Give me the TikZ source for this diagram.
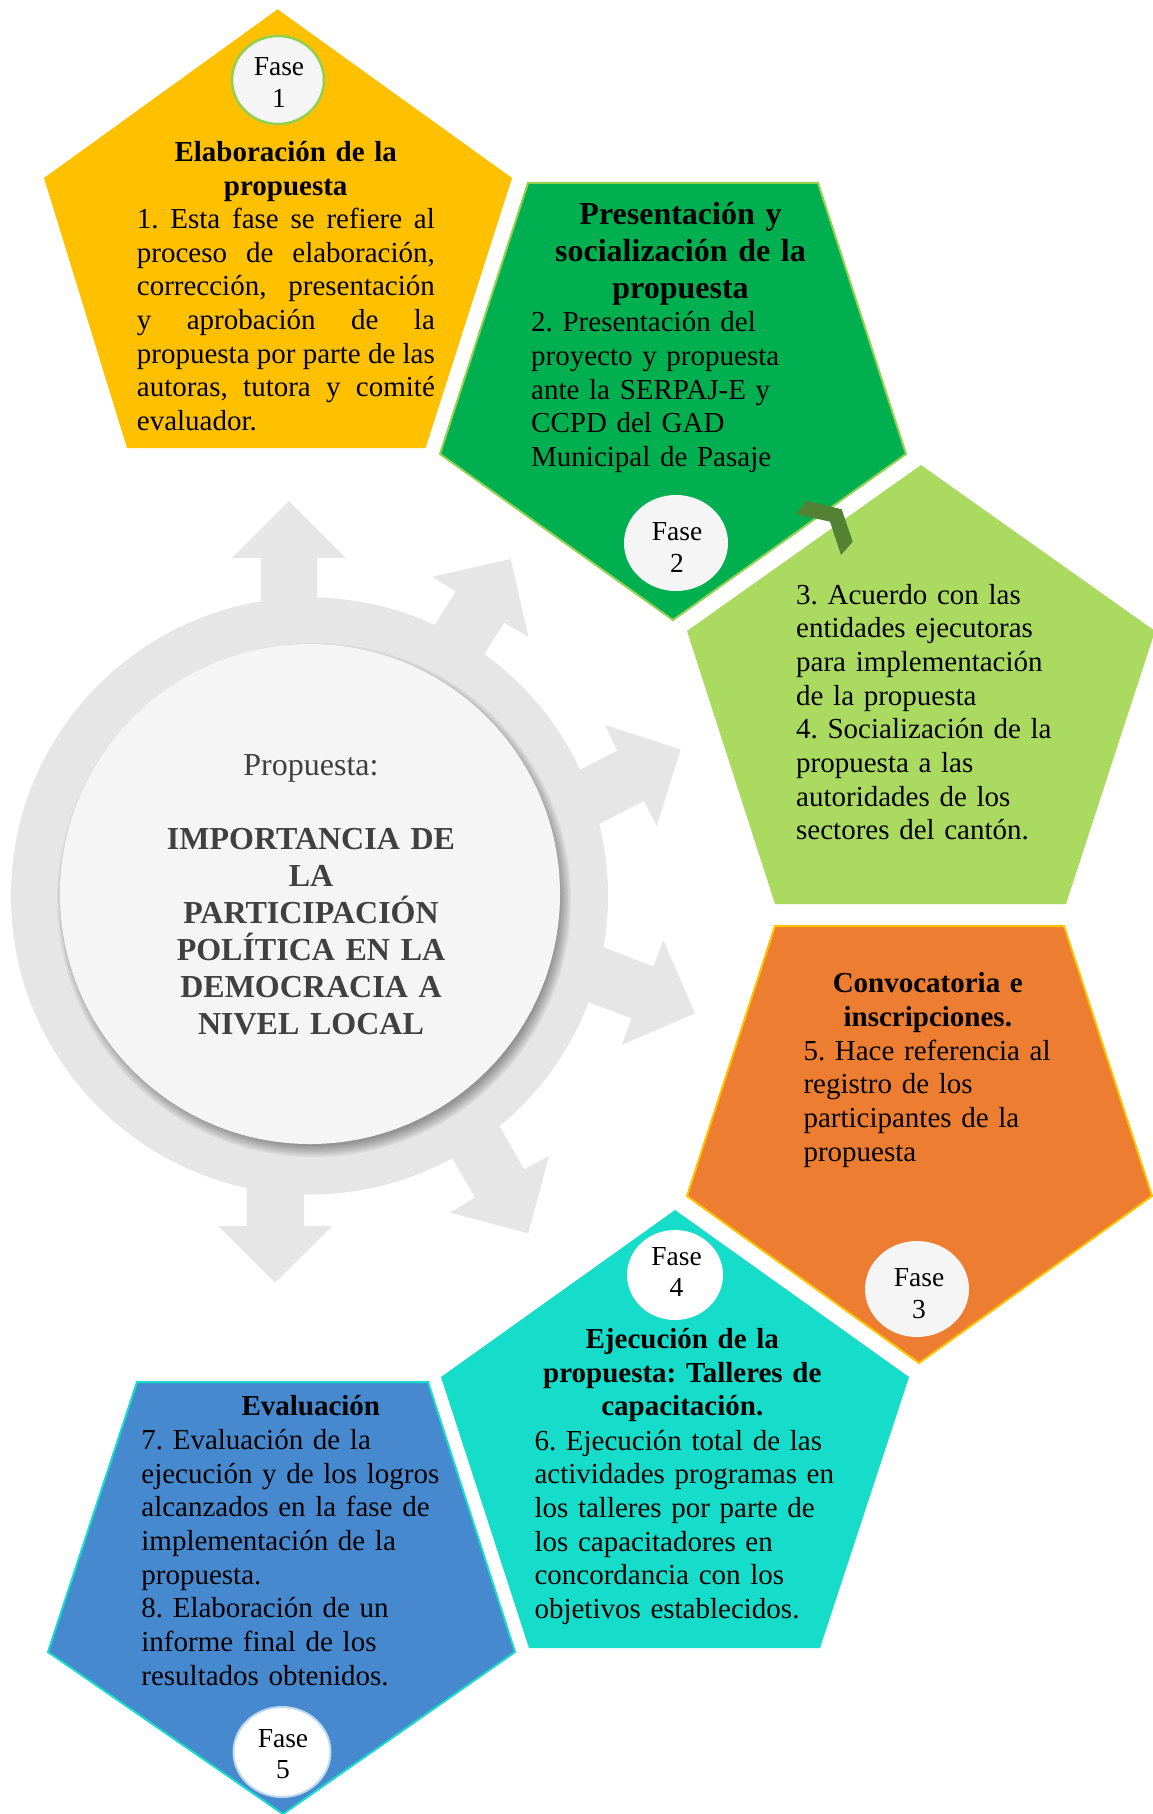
\documentclass[tikz,border=0pt]{standalone}
\usepackage{fontspec}
\setmainfont{Liberation Serif}
\usetikzlibrary{shapes.geometric}
\definecolor{cyellow}{HTML}{FFC000}
\definecolor{cgreen}{HTML}{00B050}
\definecolor{clgreen}{HTML}{AADA60}
\definecolor{corange}{HTML}{ED7D31}
\definecolor{cteal}{HTML}{16DCCA}
\definecolor{cblue}{HTML}{4689CF}
\definecolor{cring}{HTML}{E6E6E6}
\definecolor{cinner}{HTML}{F5F5F5}
\definecolor{cborder}{HTML}{92D050}
\definecolor{cchev}{HTML}{548235}
\definecolor{ctext}{HTML}{404040}
\definecolor{cpale}{HTML}{BDD7EE}
\frenchspacing
\begin{document}
\frenchspacing
\begin{tikzpicture}[x=1pt,y=-1pt,
  body/.style={anchor=base west, inner sep=0pt, text width=340pt, align=left,
    font=\fontsize{29}{33.7}\selectfont\frenchspacing},
  ttl/.style={anchor=base, inner sep=0pt, text width=400pt, align=center,
    font=\fontsize{29}{33.7}\selectfont\bfseries\frenchspacing},
  fasetxt/.style={anchor=base, inner sep=0pt, text width=100pt, align=center,
    font=\fontsize{27.5}{31.5}\selectfont},
  fasebub/.style={ellipse, inner sep=0pt, fill=cinner, draw=none},
  ringarrow/.style={fill=cring},
  pent/.style={line width=2pt, line join=miter}
]
\useasboundingbox (0,0) rectangle (1152,1814);

% ---- central ring and arrows ----
\fill[cring] (309.5,896) circle[radius=298.5pt];
% top arrow
\fill[ringarrow] (289,501) -- (346,558) -- (317,558) -- (317,640) -- (261,640) -- (261,558) -- (232,558) -- cycle;
% up-right arrow
\fill[ringarrow] (510.7,559) -- (528.3,636.7) -- (504.3,622.7) -- (462.9,687.1) -- (413.6,658.8) -- (455.7,591.7) -- (432.3,576.7) -- cycle;
% right-upper arrow
\fill[ringarrow] (680.7,749.3) -- (656.7,826) -- (644,801) -- (564.5,841.7) -- (545.2,787.4) -- (617.3,750.7) -- (605,725) -- cycle;
% right-lower arrow
\fill[ringarrow] (695,1013.3) -- (621.7,1045) -- (631.7,1018.3) -- (552.1,988.3) -- (567.8,932.9) -- (653.3,966.7) -- (663.3,940) -- cycle;
% down-right arrow
\fill[ringarrow] (528.3,1233.3) -- (450,1212.7) -- (475,1197.3) -- (432.3,1123.7) -- (480,1092) -- (524,1169.3) -- (549,1156) -- cycle;
% bottom arrow
\fill[ringarrow] (275,1282.7) -- (218.3,1226) -- (246.7,1226) -- (246.7,1150) -- (304,1150) -- (304,1226) -- (332.3,1226) -- cycle;

% shadow of inner circle
\foreach \k in {0,...,7}{
  \fill[black,opacity=0.05] (314,900) circle[radius={257-\k*1.6}];
}
\node[circle, fill=cinner, minimum size=500pt, inner sep=0pt] (core) at (310,894) {};
\node[anchor=base, inner sep=0pt, text=ctext, font=\fontsize{32}{37}\selectfont] (coretitle) at (311,775) {Propuesta:};
\node[anchor=base, inner sep=0pt, text width=330pt, align=center, text=ctext,
  font=\fontsize{32}{37}\selectfont\bfseries] (coretext) at (311,849)
  {IMPORTANCIA DE\\LA\\PARTICIPACIÓN\\POLÍTICA EN LA\\DEMOCRACIA A\\NIVEL LOCAL};

% ---- pentagons ----
\fill[cyellow] (277.6,9.3) -- (512,178) -- (425.6,448) -- (127,448) -- (44,178) -- cycle;
\filldraw[pent, fill=cgreen, draw=cborder] (528,183) -- (818,183) -- (906,454) -- (673,620) -- (440,454) -- cycle;
\fill[clgreen] (921,465) -- (1155,631) -- (1066,904) -- (775,904) -- (687,631) -- cycle;
\filldraw[pent, fill=corange, draw=cyellow] (775,926) -- (1064,926) -- (1152,1196) -- (919,1363) -- (687,1196) -- cycle;
\fill[cteal] (675,1210) -- (909,1377) -- (820,1648) -- (529,1648) -- (441,1377) -- cycle;
\filldraw[pent, fill=cblue, draw=cteal] (137,1382) -- (428,1382) -- (515,1652) -- (283,1814) -- (48,1652) -- cycle;

% chevron between phase 2 and 3
\fill[cchev] (796,514) -- (806.7,500.7) -- (841.7,509.3) -- (852.7,541.7) -- (841,555) -- (830,521.7) -- cycle;

% ---- phase bubbles ----
\node[fasebub, draw=cborder, line width=2.5pt, minimum width=92pt, minimum height=88pt] (f1) at (278,80) {};
\node[fasebub, minimum width=104pt, minimum height=96pt] (f2) at (676,543) {};
\node[fasebub, minimum width=104pt, minimum height=96pt] (f3) at (917,1289) {};
\node[fasebub, fill=white, minimum width=96pt, minimum height=90pt] (f4) at (675,1275) {};
\node[fasebub, fill=white, draw=cpale, line width=2pt, minimum width=97pt, minimum height=90pt] (f5) at (282,1752) {};

\node[fasetxt] (t1) at (279,76) {Fase\\1};
\node[fasetxt] (t2) at (677,540.7) {Fase\\2};
\node[fasetxt] (t3) at (919,1286.7) {Fase\\3};
\node[fasetxt] (t4) at (676.5,1265) {Fase\\4};
\node[fasetxt] (t5) at (283,1747) {Fase\\5};

% ---- texts ----
\node[ttl] (h1) at (285.7,161.5) {Elaboración de la\\propuesta};
\node[body, text width=298pt, align=justify] (b1) at (136.7,228.4)
  {1. Esta fase se refiere al\linebreak proceso de elaboración,\linebreak corrección, presentación\linebreak y aprobación de la\linebreak propuesta por parte de las\linebreak autoras, tutora y comité\linebreak evaluador.};

\node[ttl, font=\fontsize{32}{37}\selectfont\bfseries\frenchspacing] (h2) at (680.5,224.3)
  {Presentación y\\socialización de la\\propuesta};
\node[body] (b2) at (531,331.7)
  {2. Presentación del\\proyecto y propuesta\\ante la SERPAJ-E y\\CCPD del GAD\\Municipal de Pasaje};

\node[body] (b3) at (796,604)
  {3. Acuerdo con las\\entidades ejecutoras\\para implementación\\de la propuesta\\4. Socialización de la\\propuesta a las\\autoridades de los\\sectores del cantón.};

\node[ttl] (h4) at (927.8,992.7) {Convocatoria e\\inscripciones.};
\node[body] (b4) at (803.3,1060)
  {5. Hace referencia al\\registro de los\\participantes de la\\propuesta};

\node[ttl] (h5) at (682.3,1348.3) {Ejecución de la\\propuesta: Talleres de\\capacitación.};
\node[body] (b5) at (534.3,1450)
  {6. Ejecución total de las\\actividades programas en\\los talleres por parte de\\los capacitadores en\\concordancia con los\\objetivos establecidos.};

\node[ttl] (h6) at (310.8,1415) {Evaluación};
\node[body] (b6) at (141.2,1449.3)
  {7. Evaluación de la\\ejecución y de los logros\\alcanzados en la fase de\\implementación de la\\propuesta.\\8. Elaboración de un\\informe final de los\\resultados obtenidos.};
\end{tikzpicture}
\end{document}
